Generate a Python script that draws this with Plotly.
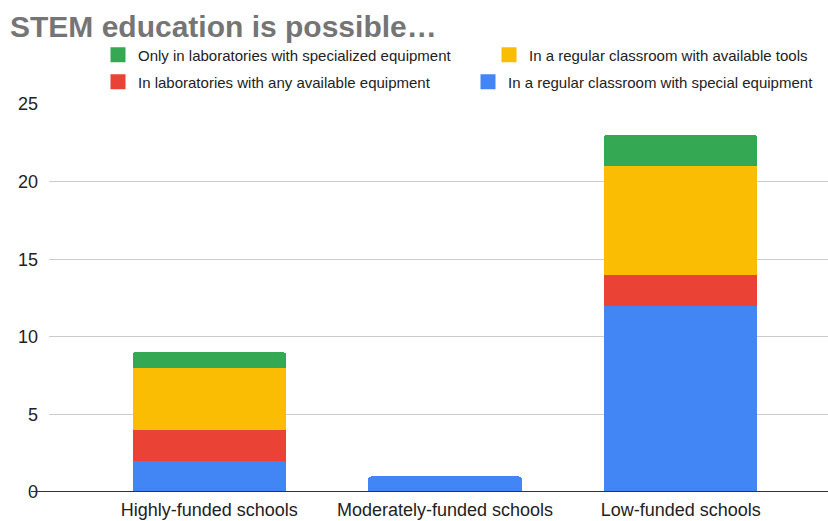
import plotly.graph_objects as go

categories = ["Highly-funded schools", "Moderately-funded schools", "Low-funded schools"]
special_classroom = [2, 1, 12]
any_lab = [2, 0, 2]
available_tools = [4, 0, 7]
specialized_lab = [1, 0, 2]

series = [
    ("In a regular classroom with special equipment", special_classroom, "#4285F4", "legend2"),
    ("In laboratories with any available equipment", any_lab, "#EA4335", "legend2"),
    ("In a regular classroom with available tools", available_tools, "#FBBC04", "legend"),
    ("Only in laboratories with specialized equipment", specialized_lab, "#34A853", "legend"),
]

fig = go.Figure()
for name, vals, color, lg in series:
    fig.add_trace(go.Bar(x=categories, y=vals, name=name, marker_color=color,
                         marker_line_width=0, width=0.651, showlegend=False))
# legend entries with larger square swatches
for name, vals, color, lg in series:
    fig.add_trace(go.Scatter(x=[None], y=[None], mode="markers", name=name,
                             marker=dict(symbol="square", size=15, color=color),
                             legend=lg, hoverinfo="skip"))

font = "Liberation Sans, Arial, sans-serif"
fig.update_layout(
    width=828, height=521,
    margin=dict(l=49, r=0, t=104, b=29, autoexpand=False),
    barmode="stack",
    barcornerradius=3,
    plot_bgcolor="white", paper_bgcolor="white",
    font=dict(family=font, size=18, color="#222222"),
    title=dict(text="<b>STEM education is possible…</b>", x=10/828, xref="container", xanchor="left",
               y=1 - 26/521, yref="container", yanchor="middle",
               font=dict(family=font, size=30, color="#757575"), pad=dict(l=0)),
    legend=dict(orientation="h", x=98/828, xanchor="left", xref="container",
                y=1 - 55/521, yref="container", yanchor="middle",
                font=dict(size=15, color="#222222"), traceorder="reversed",
                entrywidth=346, itemclick=False),
    legend2=dict(orientation="h", x=98/828, xanchor="left", xref="container",
                 y=1 - 82/521, yref="container", yanchor="middle",
                 font=dict(size=15, color="#222222"), traceorder="reversed",
                 entrywidth=325, itemclick=False),
    xaxis=dict(range=[-0.68, 2.625], showgrid=False, showline=False, ticks="",
               tickfont=dict(size=18, color="#222222"), ticklabelstandoff=5),
    yaxis=dict(range=[0, 25], dtick=5, showgrid=True, gridcolor="#cccccc", gridwidth=1,
               zeroline=False, showline=False, ticks="",
               tickfont=dict(size=18, color="#222222"), ticklabelstandoff=10),
)
fig.add_shape(type="line", xref="paper", yref="y", x0=(31-49)/779, x1=1, y0=0, y1=0,
              line=dict(color="#333333", width=2), layer="above")
fig.write_html("out.html")
